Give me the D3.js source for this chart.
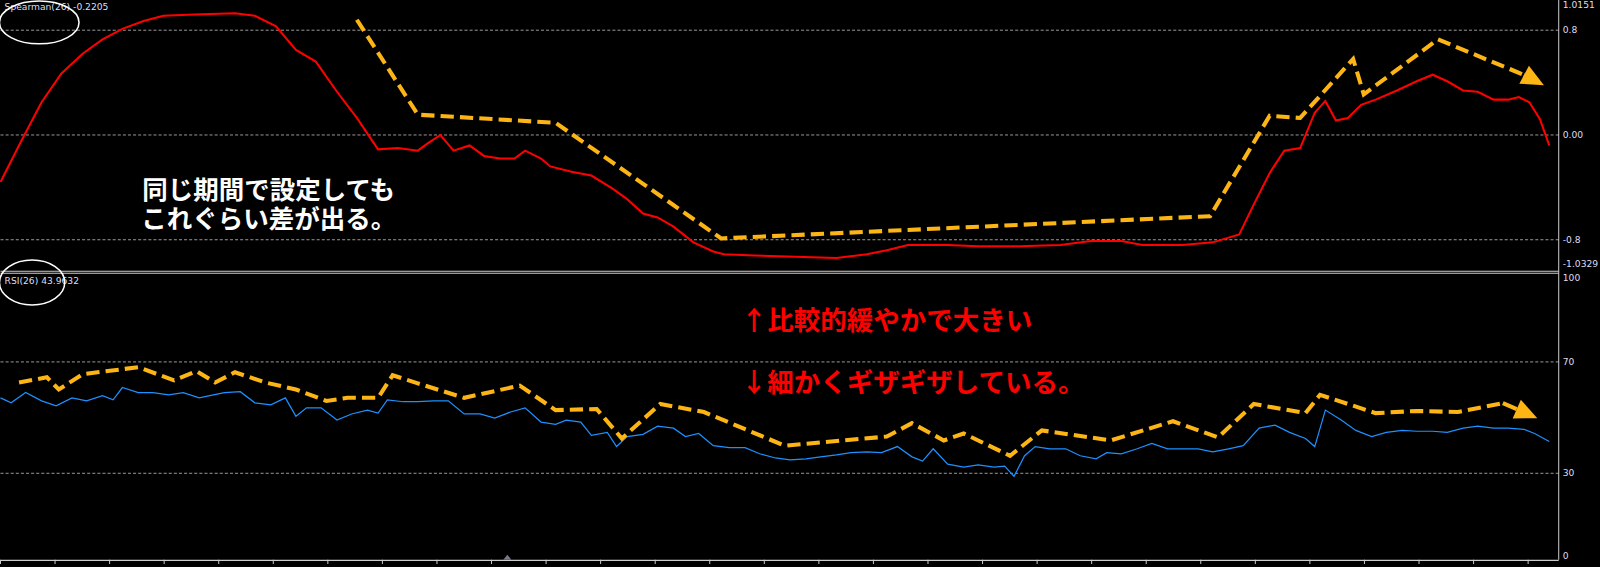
<!DOCTYPE html>
<html><head><meta charset="utf-8">
<script src="https://cdn.jsdelivr.net/npm/d3@7"></script>
<style>body{margin:0;background:#000;overflow:hidden}</style>
</head><body><div id="chart"></div>
<script>
// data: [bar index, value]
const spearman = [[0,-0.36],[1.5,-0.06],[3.1,0.25],[4.6,0.47],[6.2,0.62],[7.7,0.73],[9.2,0.81],[10.8,0.87],[12.3,0.91],[14.6,0.92],[17.7,0.93],[19.2,0.91],[20.8,0.83],[22.3,0.65],[23.8,0.56],[25.4,0.33],[26.9,0.13],[28.5,-0.11],[30,-0.1],[31.5,-0.12],[32.3,-0.06],[33.2,0],[34.2,-0.12],[35.4,-0.08],[36.5,-0.16],[37.7,-0.18],[38.8,-0.18],[39.6,-0.12],[40.8,-0.18],[41.5,-0.24],[43.1,-0.28],[44.6,-0.31],[46.2,-0.41],[47.3,-0.49],[48.5,-0.6],[49.6,-0.63],[50.8,-0.7],[52.3,-0.82],[53.8,-0.89],[54.6,-0.91],[56.9,-0.92],[60,-0.93],[63.1,-0.94],[65.4,-0.91],[66.9,-0.88],[68.5,-0.84],[70,-0.84],[71.5,-0.84],[73.8,-0.85],[76.9,-0.85],[80,-0.84],[82.3,-0.81],[84.6,-0.81],[86.2,-0.84],[89.2,-0.84],[91.5,-0.82],[93.5,-0.76],[94.6,-0.53],[95.8,-0.29],[96.9,-0.12],[98.1,-0.1],[99.2,0.17],[100,0.26],[100.8,0.11],[101.7,0.13],[102.7,0.23],[103.8,0.27],[105.4,0.34],[106.9,0.41],[108.1,0.46],[109.2,0.41],[110.4,0.34],[111.5,0.33],[112.7,0.27],[113.8,0.27],[114.6,0.29],[115.4,0.25],[116.2,0.12],[116.9,-0.08]];
const rsi = [[0,57.1],[0.8,55.3],[1.9,59],[3.1,56],[4.2,54.2],[5.4,57.1],[6.5,56],[7.7,57.9],[8.5,56.4],[9.2,60.8],[10.4,59],[11.5,59],[12.7,58.2],[13.8,59],[15,57.1],[15.8,57.9],[16.9,59],[18.1,59.3],[19.2,55.3],[20.4,54.6],[21.5,57.1],[22.3,50.5],[23.1,53.5],[24.2,53.5],[25.4,49.1],[26.5,51.3],[27.7,52.7],[28.5,51.6],[29.2,56.4],[30.4,55.7],[31.5,55.7],[32.7,56],[33.8,56],[35,51.3],[36.2,51.3],[37.3,49.8],[38.5,52],[39.6,53.5],[40.8,48.4],[41.9,47.6],[42.7,49.1],[43.8,48.4],[44.6,43.6],[45.8,44.7],[46.5,39.6],[47.3,43.2],[48.5,44],[49.6,46.9],[50.8,46.2],[51.7,43.2],[52.7,44.3],[53.8,39.9],[55,39.2],[56.2,39.2],[57.3,37],[58.5,35.5],[59.6,34.8],[60.8,35.2],[61.9,35.9],[63.1,36.6],[64.2,37.4],[65.4,37.7],[66.5,37.4],[67.7,39.6],[68.8,35.9],[69.6,34.4],[70.4,38.8],[71.5,33.3],[72.7,32.2],[73.8,33],[75,32.2],[75.8,32.6],[76.5,28.9],[77.3,36.3],[78.1,39.6],[79.2,38.8],[80.4,38.8],[81.5,36.3],[82.7,35.2],[83.5,37.4],[84.6,37],[85.8,38.8],[86.9,40.7],[88.1,38.8],[89.2,38.8],[90.4,38.8],[91.5,37.7],[92.7,38.8],[93.8,39.9],[95,46.2],[96.2,47.3],[97.3,44.7],[98.5,42.5],[99.2,39.6],[100,52.7],[101.2,49.1],[102.3,45.4],[103.5,43.2],[104.6,44.7],[105.8,45.4],[106.9,45.1],[108.1,45.1],[109.2,44.7],[110.4,46.2],[111.5,46.9],[112.7,46.2],[113.8,46.2],[115,45.8],[115.8,44.3],[116.9,41.4]];
// hand-drawn orange annotations, in the same units
const spearNote = [[26.9,0.88],[31.5,0.155],[41.9,0.093],[54.4,-0.79],[91.3,-0.62],[95.8,0.147],[98.1,0.13],[102.1,0.58],[102.9,0.31],[108.5,0.73],[115.2,0.45]];
const spearTip = [116.5,0.38];
const rsiNote = [[1.4,62.6],[3.5,64.5],[4.4,60.1],[6.2,65.6],[10.4,68.1],[13.1,63.4],[14.8,66.7],[16.2,62.6],[17.7,66.3],[20,62.6],[22.3,60.1],[24.6,56],[26.2,57.1],[28.5,57.1],[29.6,65.2],[31.5,62.3],[35,57.1],[39.2,61.5],[41.9,52.7],[45,53.1],[46.9,42.5],[49.8,54.9],[53.1,52],[59.2,39.9],[66.9,43.2],[68.8,48],[71.2,41.8],[72.7,44.3],[76.2,36.3],[78.6,45.4],[83.8,41.8],[88.5,48.7],[91.9,42.9],[94.6,54.9],[98.5,51.6],[99.6,58.2],[103.8,51.6],[106.9,52.4],[110,52],[113.4,55.2]];
const rsiTip = [116,49.8];
const spearTicks = [0.8, 0, -0.8];
const spearTickLabels = ["0.8", "0.00", "-0.8"];
const rsiTicks = [70, 30];
const spearRange = [-1.0329, 1.0151];

const W = 1568, H = 556;
const svg = d3.select("#chart").append("svg")
  .attr("width", 1600).attr("height", 567)
  .attr("viewBox", `0 0 ${W} ${H}`)
  .style("background", "#000");

const plotR = 1528;
const x = d3.scaleLinear().domain([0, 117]).range([0, 1520]);
const yS = d3.scaleLinear().domain(spearRange).range([265, 2]);
const yR = d3.scaleLinear().domain([0, 100]).range([546, 273]);

const lab = {fill: "#dde", font: "9px 'DejaVu Sans', sans-serif"};

// grids
const grid = (vals, y) => svg.append("g").selectAll("line").data(vals).join("line")
  .attr("x1", 0).attr("x2", plotR).attr("y1", y).attr("y2", y)
  .attr("stroke", "#bbb").attr("stroke-dasharray", "3,2").attr("stroke-width", 0.8);
grid(spearTicks, yS);
grid(rsiTicks, yR);

// frame
svg.append("line").attr("x1", plotR).attr("x2", plotR).attr("y1", 0).attr("y2", 549).attr("stroke", "#ccc");
svg.append("line").attr("x1", 0).attr("x2", plotR).attr("y1", 266).attr("y2", 266).attr("stroke", "#ccc");
svg.append("line").attr("x1", 0).attr("x2", plotR).attr("y1", 268).attr("y2", 268).attr("stroke", "#ccc");
svg.append("line").attr("x1", 0).attr("x2", plotR).attr("y1", 549.5).attr("y2", 549.5).attr("stroke", "#ccc");
svg.append("g").selectAll("line").data(d3.range(0, plotR, 53.5)).join("line")
  .attr("x1", d => d).attr("x2", d => d).attr("y1", 549).attr("y2", 553).attr("stroke", "#ccc");
svg.append("path").attr("d", "M493,549L497,544L501,549Z").attr("fill", "#778");

// axis labels
const ax = svg.append("g").style("font", lab.font).attr("fill", lab.fill);
ax.append("text").attr("x", plotR + 4).attr("y", 8).text(spearRange[1].toFixed(4));
ax.append("text").attr("x", plotR + 4).attr("y", 262).text(spearRange[0].toFixed(4));
ax.selectAll("text.s").data(spearTicks).join("text").attr("class", "s")
  .attr("x", plotR + 4).attr("y", d => yS(d) + 3).text((d, i) => spearTickLabels[i]);
ax.selectAll("text.r").data([100, 70, 30, 0]).join("text").attr("class", "r")
  .attr("x", plotR + 4).attr("y", d => Math.min(yR(d) + 3, 548)).text(d => d);

// titles
svg.append("text").attr("x", 4).attr("y", 10).style("font", lab.font).attr("fill", lab.fill).text("Spearman(26) -0.2205");
svg.append("text").attr("x", 4).attr("y", 278).style("font", lab.font).attr("fill", lab.fill).text("RSI(26) 43.9632");
svg.append("ellipse").attr("cx", 38).attr("cy", 22).attr("rx", 39).attr("ry", 21).attr("fill", "none").attr("stroke", "#fff").attr("stroke-width", 1.5);
svg.append("ellipse").attr("cx", 31).attr("cy", 277).attr("rx", 32).attr("ry", 22).attr("fill", "none").attr("stroke", "#fff").attr("stroke-width", 1.5);

// series
const lS = d3.line().x(d => x(d[0])).y(d => yS(d[1]));
const lR = d3.line().x(d => x(d[0])).y(d => yR(d[1]));
svg.append("path").attr("d", lS(spearman)).attr("fill", "none").attr("stroke", "#f00").attr("stroke-width", 2);
svg.append("path").attr("d", lR(rsi)).attr("fill", "none").attr("stroke", "#1e90ff").attr("stroke-width", 1.2);

// annotations
const orange = "#fdb515";
function note(data, tip, line, sx, sy) {
  svg.append("path").attr("d", line(data)).attr("fill", "none").attr("stroke", orange)
    .attr("stroke-width", 4).attr("stroke-dasharray", "13,6");
  const a = data[data.length - 1];
  const x0 = sx(a[0]), y0 = sy(a[1]), x1 = sx(tip[0]), y1 = sy(tip[1]);
  const ang = Math.atan2(y1 - y0, x1 - x0), L = 22, w = 10;
  const bx = x1 - L * Math.cos(ang), by = y1 - L * Math.sin(ang);
  svg.append("path").attr("fill", orange).attr("d",
    `M${x1},${y1}L${bx - w * Math.sin(ang)},${by + w * Math.cos(ang)}L${bx + w * Math.sin(ang)},${by - w * Math.cos(ang)}Z`);
  svg.append("line").attr("x1", x0).attr("y1", y0).attr("x2", bx).attr("y2", by).attr("stroke", orange).attr("stroke-width", 4);
}
note(spearNote, spearTip, lS, x, yS);
note(rsiNote, rsiTip, lR, x, yR);

const jp = "'Noto Sans CJK JP', sans-serif";
svg.append("text").attr("x", 263).attr("y", 195).attr("text-anchor", "middle").attr("fill", "#fff")
  .style("font", `bold 25px ${jp}`).text("同じ期間で設定しても");
svg.append("text").attr("x", 263).attr("y", 224).attr("text-anchor", "middle").attr("fill", "#fff")
  .style("font", `bold 25px ${jp}`).text("これぐらい差が出る。");
svg.append("text").attr("x", 726).attr("y", 324).attr("fill", "#f00")
  .style("font", `bold 26px ${jp}`).text("↑比較的緩やかで大きい");
svg.append("text").attr("x", 726).attr("y", 384).attr("fill", "#f00")
  .style("font", `bold 26px ${jp}`).text("↓細かくギザギザしている。");
</script></body></html>
